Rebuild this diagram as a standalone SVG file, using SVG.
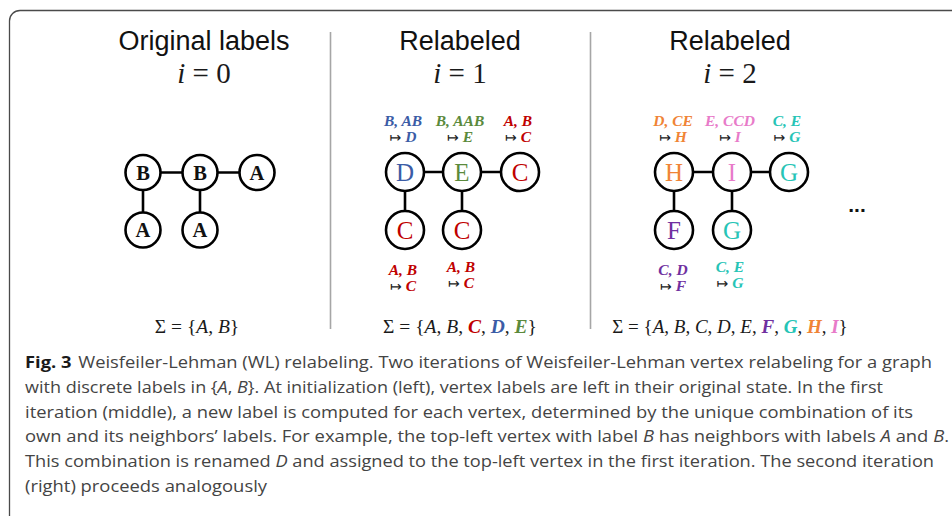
<svg xmlns="http://www.w3.org/2000/svg" width="952" height="516" viewBox="0 0 952 516">
<defs>
<style>
.title{font-family:"Liberation Sans",Arial,sans-serif;font-size:27px;fill:#111;text-anchor:middle}
.math{font-family:"Liberation Serif","Times New Roman",serif;fill:#1a1a1a;text-anchor:middle}
.it{font-style:italic}
.bi{font-style:italic;font-weight:bold}
.node circle{fill:#fff;stroke:#000;stroke-width:2.6}
.n0{font-family:"Liberation Serif",serif;font-weight:bold;font-size:20.5px;fill:#111;text-anchor:middle}
.n1{font-family:"Liberation Serif",serif;font-size:25px;text-anchor:middle}
.ann{font-family:"Liberation Serif",serif;font-size:15.5px;font-style:italic;font-weight:bold;text-anchor:middle}
.arr{font-family:"DejaVu Sans",sans-serif;font-style:normal;font-weight:normal;font-size:14px;fill:#222}
.edge line{stroke:#000;stroke-width:2.6}
.div{stroke:#a6a6a6;stroke-width:1.6}
.cap{font-family:"Open Sans","Noto Sans",sans-serif;font-size:16px;fill:#444}
.red{fill:#c00000}.blue{fill:#3b5ca6}.green{fill:#5b8a3c}.orange{fill:#f08436}.pink{fill:#e87bc9}.teal{fill:#26c4b6}.purple{fill:#7030a0}
</style>
</defs>
<rect x="0" y="0" width="952" height="516" fill="#fff"/>
<path d="M952 10.5 H20 A10.5 10.5 0 0 0 9.5 21 V516" fill="none" stroke="#4a4a4a" stroke-width="1.3"/>
<line class="div" x1="330.5" y1="32" x2="330.5" y2="329"/>
<line class="div" x1="590.5" y1="32" x2="590.5" y2="329"/>

<g id="titles">
<text class="title" x="204" y="50">Original labels</text>
<text class="math" x="204" y="83" font-size="29"><tspan class="it">i</tspan> = 0</text>
<text class="title" x="460" y="50">Relabeled</text>
<text class="math" x="460" y="83" font-size="29"><tspan class="it">i</tspan> = 1</text>
<text class="title" x="730" y="50">Relabeled</text>
<text class="math" x="730" y="83" font-size="29"><tspan class="it">i</tspan> = 2</text>
</g>

<g id="connectors" class="edge">
<line x1="143" y1="172.5" x2="200" y2="172.5"/>
<line x1="200" y1="172.5" x2="257" y2="172.5"/>
<line x1="143" y1="172.5" x2="143" y2="230"/>
<line x1="200" y1="172.5" x2="200" y2="230"/>
<line x1="405" y1="172" x2="462" y2="172"/>
<line x1="462" y1="172" x2="520" y2="172"/>
<line x1="405" y1="172" x2="405" y2="230"/>
<line x1="462" y1="172" x2="462" y2="230"/>
<line x1="674" y1="172" x2="732" y2="172"/>
<line x1="732" y1="172" x2="789" y2="172"/>
<line x1="674" y1="172" x2="674" y2="230"/>
<line x1="732" y1="172" x2="732" y2="230"/>
</g>

<!-- i = 0 -->
<g id="n0-b1" class="node"><circle cx="143" cy="172.5" r="17.5"/><text class="n0" x="143" y="179.5">B</text></g>
<g id="n0-b2" class="node"><circle cx="200" cy="172.5" r="17.5"/><text class="n0" x="200" y="179.5">B</text></g>
<g id="n0-a3" class="node"><circle cx="257" cy="172.5" r="17.5"/><text class="n0" x="257" y="179.5">A</text></g>
<g id="n0-a4" class="node"><circle cx="143" cy="230" r="17.5"/><text class="n0" x="143" y="237">A</text></g>
<g id="n0-a5" class="node"><circle cx="200" cy="230" r="17.5"/><text class="n0" x="200" y="237">A</text></g>

<!-- i = 1 -->
<g id="n1-d" class="node"><circle cx="405" cy="172" r="19"/><text class="n1 blue" x="405" y="180.5">D</text>
<text class="ann blue" x="403" y="126">B, AB</text><text class="ann blue" x="403" y="142"><tspan class="arr">↦</tspan> D</text></g>
<g id="n1-e" class="node"><circle cx="462" cy="172" r="19"/><text class="n1 green" x="462" y="180.5">E</text>
<text class="ann green" x="460" y="126">B, AAB</text><text class="ann green" x="460" y="142"><tspan class="arr">↦</tspan> E</text></g>
<g id="n1-c3" class="node"><circle cx="520" cy="172" r="19"/><text class="n1 red" x="520" y="180.5">C</text>
<text class="ann red" x="518" y="126">A, B</text><text class="ann red" x="518" y="142"><tspan class="arr">↦</tspan> C</text></g>
<g id="n1-c4" class="node"><circle cx="405" cy="230" r="19"/><text class="n1 red" x="405" y="238.5">C</text>
<text class="ann red" x="403" y="275">A, B</text><text class="ann red" x="403" y="291"><tspan class="arr">↦</tspan> C</text></g>
<g id="n1-c5" class="node"><circle cx="462" cy="230" r="19"/><text class="n1 red" x="462" y="238.5">C</text>
<text class="ann red" x="461" y="272">A, B</text><text class="ann red" x="461" y="288"><tspan class="arr">↦</tspan> C</text></g>

<!-- i = 2 -->
<g id="n2-h" class="node"><circle cx="674" cy="172" r="19"/><text class="n1 orange" x="674" y="180.5">H</text>
<text class="ann orange" x="673" y="126">D, CE</text><text class="ann orange" x="673" y="142"><tspan class="arr">↦</tspan> H</text></g>
<g id="n2-i" class="node"><circle cx="732" cy="172" r="19"/><text class="n1 pink" x="732" y="180.5">I</text>
<text class="ann pink" x="730" y="126">E, CCD</text><text class="ann pink" x="730" y="142"><tspan class="arr">↦</tspan> I</text></g>
<g id="n2-g3" class="node"><circle cx="789" cy="172" r="19"/><text class="n1 teal" x="789" y="180.5">G</text>
<text class="ann teal" x="787" y="126">C, E</text><text class="ann teal" x="787" y="142"><tspan class="arr">↦</tspan> G</text></g>
<g id="n2-f" class="node"><circle cx="674" cy="230" r="19"/><text class="n1 purple" x="674" y="238.5">F</text>
<text class="ann purple" x="673" y="275">C, D</text><text class="ann purple" x="673" y="291"><tspan class="arr">↦</tspan> F</text></g>
<g id="n2-g5" class="node"><circle cx="732" cy="230" r="19"/><text class="n1 teal" x="732" y="238.5">G</text>
<text class="ann teal" x="730" y="272">C, E</text><text class="ann teal" x="730" y="288"><tspan class="arr">↦</tspan> G</text></g>

<text x="857" y="212" font-family="Liberation Sans,sans-serif" font-weight="bold" font-size="21" fill="#111" text-anchor="middle">...</text>

<g id="alphabets">
<text class="math" x="197" y="333" font-size="19.5">Σ = {<tspan class="it">A</tspan>, <tspan class="it">B</tspan>}</text>
<text class="math" x="460" y="333" font-size="19.5">Σ = {<tspan class="it">A</tspan>, <tspan class="it">B</tspan>, <tspan class="bi red">C</tspan>, <tspan class="bi blue">D</tspan>, <tspan class="bi green">E</tspan>}</text>
<text class="math" x="730" y="333" font-size="19">Σ = {<tspan class="it">A</tspan>, <tspan class="it">B</tspan>, <tspan class="it">C</tspan>, <tspan class="it">D</tspan>, <tspan class="it">E</tspan>, <tspan class="bi purple">F</tspan>, <tspan class="bi teal">G</tspan>, <tspan class="bi orange">H</tspan>, <tspan class="bi pink">I</tspan>}</text>
</g>

<g id="caption" class="cap">
<text x="25" y="368" textLength="907" lengthAdjust="spacingAndGlyphs"><tspan font-weight="bold" fill="#1a1a1a">Fig. 3</tspan><tspan dx="6">Weisfeiler-Lehman (WL) relabeling. Two iterations of Weisfeiler-Lehman vertex relabeling for a graph</tspan></text>
<text x="25" y="393" textLength="858" lengthAdjust="spacingAndGlyphs">with discrete labels in {<tspan font-style="italic">A</tspan>, <tspan font-style="italic">B</tspan>}. At initialization (left), vertex labels are left in their original state. In the first</text>
<text x="25" y="417.5" textLength="888" lengthAdjust="spacingAndGlyphs">iteration (middle), a new label is computed for each vertex, determined by the unique combination of its</text>
<text x="25" y="442" textLength="924" lengthAdjust="spacingAndGlyphs">own and its neighbors’ labels. For example, the top-left vertex with label <tspan font-style="italic">B</tspan> has neighbors with labels <tspan font-style="italic">A</tspan> and <tspan font-style="italic">B</tspan>.</text>
<text x="25" y="467" textLength="909" lengthAdjust="spacingAndGlyphs">This combination is renamed <tspan font-style="italic">D</tspan> and assigned to the top-left vertex in the first iteration. The second iteration</text>
<text x="25" y="491.5" textLength="242" lengthAdjust="spacingAndGlyphs">(right) proceeds analogously</text>
</g>
</svg>
